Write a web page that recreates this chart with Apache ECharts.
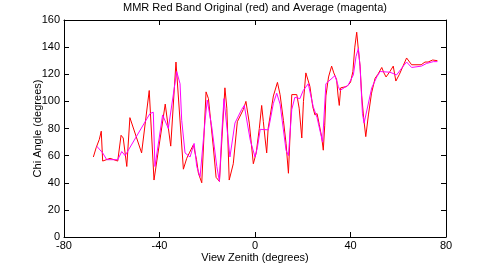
<!DOCTYPE html>
<html><head><meta charset="utf-8">
<script src="https://cdn.jsdelivr.net/npm/echarts@6/dist/echarts.min.js"></script>
<style>html,body{margin:0;padding:0;background:#fff}#c{width:495px;height:267px}</style>
</head><body><div id="c"></div>
<script>
const titleText = 'MMR Red Band Original (red) and Average (magenta)';
const xLabel = 'View Zenith (degrees)';
const yLabel = 'Chi Angle (degrees)';
const xTicks = [-80, -40, 0, 40, 80];
const yTicks = [0, 20, 40, 60, 80, 100, 120, 140, 160];

const redZenith = [-67.7,-66.5,-65.2,-64.4,-63.8,-60.7,-57.5,-56.1,-55.2,-53.7,-52.4,-47.5,-44.3,-42.3,-37.6,-35.3,-33.1,-30.0,-28.6,-27.5,-25.8,-24.5,-23.7,-22.3,-20.5,-19.5,-17.5,-16.3,-14.9,-12.6,-11.8,-10.8,-9.1,-7.4,-4.9,-3.8,-2.4,-0.7,0.5,1.8,2.8,3.5,4.2,4.9,5.5,7.7,9.4,10.5,11.9,13.0,14.0,15.4,17.5,18.5,19.6,20.3,21.3,23.0,24.2,25.1,26.0,26.9,27.9,28.6,29.2,29.7,30.8,32.1,33.0,34.2,34.8,35.3,35.9,38.5,40.0,41.0,41.8,42.6,43.3,44.0,44.7,45.5,46.4,47.5,48.8,50.3,51.5,53.1,54.0,54.9,56.5,57.9,59.0,60.5,63.5,65.6,69.6,71.2,72.5,74.4,76.4];
const redValues = [59,66,72,78,56,58,56,75,73,52,88,62,108,42,98,67,129,50,58,62,68,57,47,40,107,102,67,44,41,110,95,42,54,85,94,100,84,54,62,80,97,85,73,62,80,104,114,105,86,69,47,105,105,95,73,100,121,111,96,90,91,83,74,64,82,104,118,126,121,116,104,97,110,111,114,122,140,151,138,126,104,88,74,90,106,117,120,125,121,118,122,126,115,120,132,127,127,129,129,130.5,130];

const avgZenith = [-66.3,-63.8,-62.1,-57.5,-55.8,-54.4,-44.0,-42.6,-41.9,-38.7,-36.3,-32.8,-31.4,-30.7,-29.3,-27.2,-25.5,-24.4,-23.0,-20.9,-20.0,-18.1,-16.0,-14.9,-14.0,-13.0,-10.5,-8.4,-5.6,-4.5,-2.0,0.0,1.0,2.2,5.6,7.7,9.1,10.5,13.0,14.0,15.4,16.7,18.8,20.2,22.3,23.0,24.4,26.0,28.3,29.0,29.7,33.5,34.9,35.6,39.0,41.2,42.3,43.3,44.0,45.0,45.7,48.9,51.0,52.4,56.5,59.3,62.1,63.5,65.6,69.7,71.9,74.7,76.4];
const avgValues = [67,62,57,57,63,60,91,92,52,90,80,122,113,86,62,59,69,52,44.5,86,101,81,52,41,74,102,59,84,94,97,71.5,59,66,79.4,79,98.6,106,98,64,60,94,103,102,108,113,113,96,88,70,69,113,119,111,108,112,119.5,133,139,126,91,84,110,118,122,121.5,119.5,126,129,125,126,128,129.3,129.3];

const FONT = '"Liberation Sans", Arial, Helvetica, sans-serif';
const chart = echarts.init(document.getElementById('c'), null, {renderer: 'canvas'});
function xAx(pos, show) {
  return {type: 'value', position: pos, min: xTicks[0], max: xTicks[xTicks.length-1], interval: 40,
    axisLine: {show: true, onZero: false, lineStyle: {color: '#000'}},
    axisTick: {show: true, inside: true, length: 5, lineStyle: {color: '#000'}},
    axisLabel: {show: show, color: '#000', fontFamily: FONT, fontSize: 11, margin: 3},
    splitLine: {show: false},
    name: show ? xLabel : '', nameLocation: 'middle', nameGap: 15, nameMoveOverlap: false,
    nameTextStyle: {color: '#000', fontFamily: FONT, fontSize: 11}};
}
function yAx(pos, show) {
  return {type: 'value', position: pos, min: yTicks[0], max: yTicks[yTicks.length-1], interval: 20,
    axisLine: {show: true, onZero: false, lineStyle: {color: '#000'}},
    axisTick: {show: true, inside: true, length: 5, lineStyle: {color: '#000'}},
    axisLabel: {show: show, color: '#000', fontFamily: FONT, fontSize: 11, margin: 4},
    splitLine: {show: false},
    name: show ? yLabel : '', nameLocation: 'middle', nameGap: 21, nameRotate: 90, nameMoveOverlap: false,
    nameTextStyle: {color: '#000', fontFamily: FONT, fontSize: 11}};
}
chart.setOption({
  animation: false,
  backgroundColor: '#fff',
  title: {text: titleText, left: 255, top: 2, padding: 0, textAlign: 'center',
    textStyle: {color: '#000', fontFamily: FONT, fontSize: 11, fontWeight: 'normal'}},
  grid: {left: 64, right: 49, top: 20, bottom: 30, containLabel: false, outerBoundsMode: 'none'},
  xAxis: [xAx('bottom', true), xAx('top', false)],
  yAxis: [yAx('left', true), yAx('right', false)],
  series: [
    {type: 'line', xAxisIndex: 0, yAxisIndex: 0, data: redZenith.map((x, i) => [x, redValues[i]]),
      showSymbol: false, lineStyle: {color: '#ff0000', width: 1}, itemStyle: {color: '#ff0000'}},
    {type: 'line', xAxisIndex: 0, yAxisIndex: 0, data: avgZenith.map((x, i) => [x, avgValues[i]]),
      showSymbol: false, lineStyle: {color: '#ff00ff', width: 1}, itemStyle: {color: '#ff00ff'}}
  ]
});
</script></body></html>
